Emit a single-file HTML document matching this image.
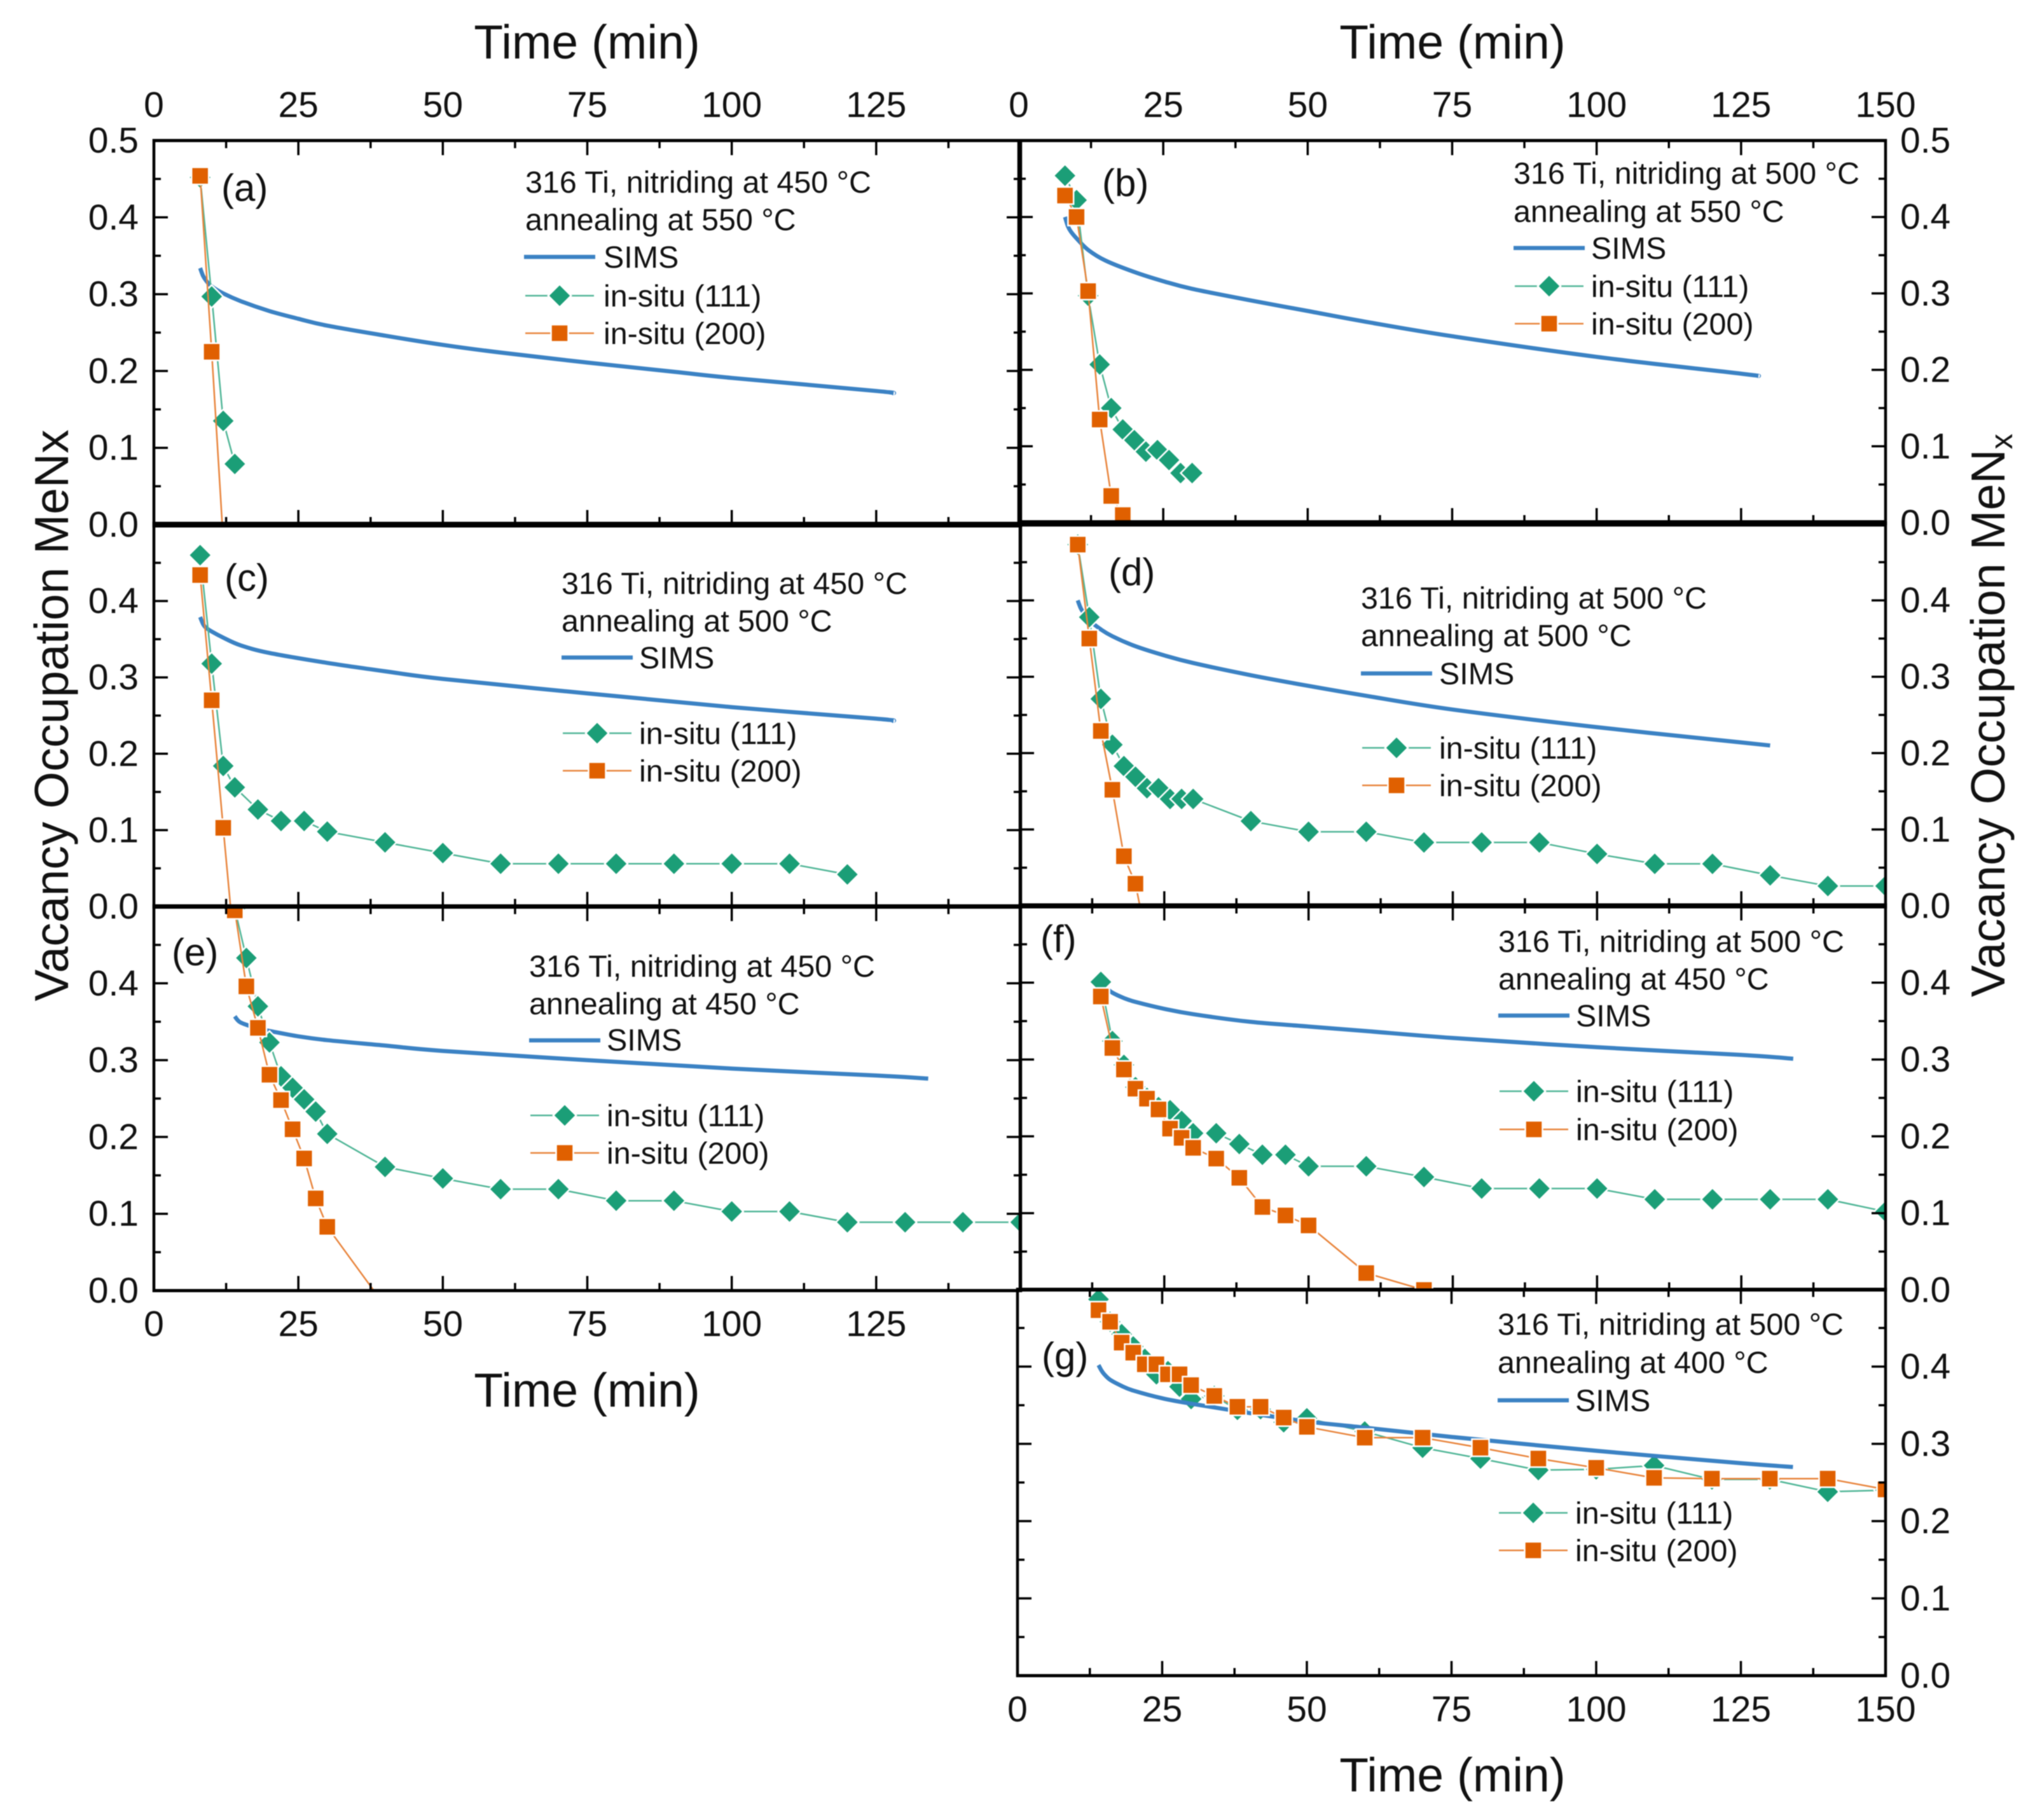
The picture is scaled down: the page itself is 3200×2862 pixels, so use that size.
<!DOCTYPE html>
<html lang="en">
<head>
<meta charset="utf-8">
<title>Vacancy occupation MeNx over annealing time</title>
<style>
html,body{margin:0;padding:0;background:#fff;}
body{width:3200px;height:2862px;overflow:hidden;}
svg{display:block;font-family:"Liberation Sans",Arial,sans-serif;fill:#111;filter:blur(0.7px);}
.leg{font-size:48.4px;}
.plabel{font-size:60px;}
.title{font-size:75px;}
.tick-label{font-size:57px;}
</style>
</head>
<body>
<svg id="chart" xmlns="http://www.w3.org/2000/svg" width="3200" height="2862" viewBox="0 0 3200 2862">
  <rect x="0" y="0" width="3200" height="2862" fill="#fff"/>
  <g id="plots"></g>

  <g class="title" text-anchor="middle">
    <text x="923" y="92">Time (min)</text>
    <text x="2284" y="92">Time (min)</text>
    <text x="923" y="2212">Time (min)</text>
    <text x="2284" y="2817">Time (min)</text>
    <text transform="translate(107,1125) rotate(-90)">Vacancy Occupation MeNx</text>
    <text transform="translate(3152,1125) rotate(-90)">Vacancy Occupation MeN<tspan font-size="49" dy="12">x</tspan></text>
  </g>

  <g class="plabel">
    <text x="348" y="316">(a)</text>
    <text x="1733" y="308">(b)</text>
    <text x="353" y="929">(c)</text>
    <text x="1743" y="920">(d)</text>
    <text x="270" y="1518">(e)</text>
    <text x="1636" y="1497">(f)</text>
    <text x="1638" y="2153">(g)</text>
  </g>

  <g class="leg" transform="translate(824,0)">
    <text x="2" y="303">316 Ti, nitriding at 450 °C</text>
    <text x="2" y="362">annealing at 550 °C</text>
    <line x1="0" x2="112" y1="404" y2="404" stroke="#3b82c4" stroke-width="6.5"/>
    <text x="125" y="421">SIMS</text>
    <line x1="2" x2="110" y1="465" y2="465" stroke="#4fb596" stroke-width="2.5"/>
    <polygon points="56,447 74,465 56,483 38,465" fill="#1b9e77" stroke="#fff" stroke-width="2.5"/>
    <text x="125" y="482">in-situ (111)</text>
    <line x1="2" x2="110" y1="524" y2="524" stroke="#e8833a" stroke-width="2.5"/>
    <rect x="42.500" y="510.500" width="27" height="27" fill="#e06000" stroke="#fff" stroke-width="2.5"/>
    <text x="125" y="541">in-situ (200)</text>
  </g>

  <g class="leg" transform="translate(2380,0)">
    <text x="0" y="289">316 Ti, nitriding at 500 °C</text>
    <text x="0" y="349">annealing at 550 °C</text>
    <line x1="0" x2="112" y1="390" y2="390" stroke="#3b82c4" stroke-width="6.5"/>
    <text x="122" y="407">SIMS</text>
    <line x1="2" x2="110" y1="450" y2="450" stroke="#4fb596" stroke-width="2.5"/>
    <polygon points="56,432 74,450 56,468 38,450" fill="#1b9e77" stroke="#fff" stroke-width="2.5"/>
    <text x="122" y="467">in-situ (111)</text>
    <line x1="2" x2="110" y1="509" y2="509" stroke="#e8833a" stroke-width="2.5"/>
    <rect x="42.500" y="495.500" width="27" height="27" fill="#e06000" stroke="#fff" stroke-width="2.5"/>
    <text x="122" y="526">in-situ (200)</text>
  </g>

  <g class="leg" transform="translate(883,0)">
    <text x="0" y="934">316 Ti, nitriding at 450 °C</text>
    <text x="0" y="993">annealing at 500 °C</text>
    <line x1="0" x2="112" y1="1034" y2="1034" stroke="#3b82c4" stroke-width="6.5"/>
    <text x="122" y="1051">SIMS</text>
    <line x1="2" x2="110" y1="1153" y2="1153" stroke="#4fb596" stroke-width="2.5"/>
    <polygon points="56,1135 74,1153 56,1171 38,1153" fill="#1b9e77" stroke="#fff" stroke-width="2.5"/>
    <text x="122" y="1170">in-situ (111)</text>
    <line x1="2" x2="110" y1="1212" y2="1212" stroke="#e8833a" stroke-width="2.5"/>
    <rect x="42.500" y="1198.500" width="27" height="27" fill="#e06000" stroke="#fff" stroke-width="2.5"/>
    <text x="122" y="1229">in-situ (200)</text>
  </g>

  <g class="leg" transform="translate(2140,0)">
    <text x="0" y="957">316 Ti, nitriding at 500 °C</text>
    <text x="0" y="1016">annealing at 500 °C</text>
    <line x1="0" x2="112" y1="1059" y2="1059" stroke="#3b82c4" stroke-width="6.5"/>
    <text x="123" y="1076">SIMS</text>
    <line x1="2" x2="110" y1="1176" y2="1176" stroke="#4fb596" stroke-width="2.5"/>
    <polygon points="56,1158 74,1176 56,1194 38,1176" fill="#1b9e77" stroke="#fff" stroke-width="2.5"/>
    <text x="123" y="1193">in-situ (111)</text>
    <line x1="2" x2="110" y1="1235" y2="1235" stroke="#e8833a" stroke-width="2.5"/>
    <rect x="42.500" y="1221.500" width="27" height="27" fill="#e06000" stroke="#fff" stroke-width="2.5"/>
    <text x="123" y="1252">in-situ (200)</text>
  </g>

  <g class="leg" transform="translate(832,0)">
    <text x="0" y="1536">316 Ti, nitriding at 450 °C</text>
    <text x="0" y="1595">annealing at 450 °C</text>
    <line x1="0" x2="112" y1="1636" y2="1636" stroke="#3b82c4" stroke-width="6.5"/>
    <text x="122" y="1652">SIMS</text>
    <line x1="2" x2="110" y1="1754" y2="1754" stroke="#4fb596" stroke-width="2.5"/>
    <polygon points="56,1736 74,1754 56,1772 38,1754" fill="#1b9e77" stroke="#fff" stroke-width="2.5"/>
    <text x="122" y="1771">in-situ (111)</text>
    <line x1="2" x2="110" y1="1813" y2="1813" stroke="#e8833a" stroke-width="2.5"/>
    <rect x="42.500" y="1799.500" width="27" height="27" fill="#e06000" stroke="#fff" stroke-width="2.5"/>
    <text x="122" y="1830">in-situ (200)</text>
  </g>

  <g class="leg" transform="translate(2356,0)">
    <text x="0" y="1497">316 Ti, nitriding at 500 °C</text>
    <text x="0" y="1556">annealing at 450 °C</text>
    <line x1="0" x2="112" y1="1597" y2="1597" stroke="#3b82c4" stroke-width="6.5"/>
    <text x="122" y="1614">SIMS</text>
    <line x1="2" x2="110" y1="1716" y2="1716" stroke="#4fb596" stroke-width="2.5"/>
    <polygon points="56,1698 74,1716 56,1734 38,1716" fill="#1b9e77" stroke="#fff" stroke-width="2.5"/>
    <text x="122" y="1733">in-situ (111)</text>
    <line x1="2" x2="110" y1="1776" y2="1776" stroke="#e8833a" stroke-width="2.5"/>
    <rect x="42.500" y="1762.500" width="27" height="27" fill="#e06000" stroke="#fff" stroke-width="2.5"/>
    <text x="122" y="1793">in-situ (200)</text>
  </g>

  <g class="leg" transform="translate(2355,0)">
    <text x="0" y="2099">316 Ti, nitriding at 500 °C</text>
    <text x="0" y="2159">annealing at 400 °C</text>
    <line x1="0" x2="112" y1="2202" y2="2202" stroke="#3b82c4" stroke-width="6.5"/>
    <text x="122" y="2219">SIMS</text>
    <line x1="2" x2="110" y1="2379" y2="2379" stroke="#4fb596" stroke-width="2.5"/>
    <polygon points="56,2361 74,2379 56,2397 38,2379" fill="#1b9e77" stroke="#fff" stroke-width="2.5"/>
    <text x="122" y="2396">in-situ (111)</text>
    <line x1="2" x2="110" y1="2438" y2="2438" stroke="#e8833a" stroke-width="2.5"/>
    <rect x="42.500" y="2424.500" width="27" height="27" fill="#e06000" stroke="#fff" stroke-width="2.5"/>
    <text x="122" y="2455">in-situ (200)</text>
  </g>
</svg>

<script>
// ---------- tick values ----------
const xMajorTicks = [0, 25, 50, 75, 100, 125, 150];
const xMinorTicks = [12.5, 37.5, 62.5, 87.5, 112.5, 137.5];
const yMajorTicks = [0, 0.1, 0.2, 0.3, 0.4, 0.5];
const yMinorTicks = [0.05, 0.15, 0.25, 0.35, 0.45];
const xLabelsLeft = ["0", "25", "50", "75", "100", "125"];
const xLabelsRight = ["0", "25", "50", "75", "100", "125", "150"];
const yLabelsFull = ["0.0", "0.1", "0.2", "0.3", "0.4", "0.5"];
const yLabelsLower = ["0.0", "0.1", "0.2", "0.3", "0.4"];

// ---------- panel (a) ----------
const aSimsTime = [8, 8.5, 9, 10, 12, 15, 20, 25, 30, 40, 50, 60, 75, 90, 100, 125, 128];
const aSimsValue = [0.334, 0.324, 0.318, 0.31, 0.301, 0.291, 0.278, 0.268, 0.259, 0.246, 0.234, 0.224, 0.211, 0.199, 0.191, 0.174, 0.171];
const a111Time = [8, 10, 12, 14];
const a111Value = [0.452, 0.297, 0.135, 0.079];
const a200Time = [8, 10, 12];
const a200Value = [0.454, 0.225, -0.02];

// ---------- panel (b) ----------
const bSimsTime = [8, 8.5, 9, 10, 12, 15, 20, 25, 30, 40, 50, 60, 75, 100, 125, 128];
const bSimsValue = [0.4, 0.388, 0.381, 0.372, 0.357, 0.343, 0.328, 0.316, 0.306, 0.291, 0.277, 0.263, 0.244, 0.217, 0.195, 0.192];
const b111Time = [8, 10, 12, 14, 16, 18, 20, 22, 24, 26, 28, 30];
const b111Value = [0.454, 0.422, 0.297, 0.207, 0.15, 0.122, 0.108, 0.093, 0.095, 0.082, 0.065, 0.065];
const b200Time = [8, 10, 12, 14, 16, 18];
const b200Value = [0.428, 0.4, 0.303, 0.135, 0.035, 0.01];

// ---------- panel (c) ----------
const cSimsTime = [8, 8.5, 9, 10, 12, 15, 20, 30, 40, 50, 75, 100, 125, 128];
const cSimsValue = [0.379, 0.37, 0.365, 0.36, 0.352, 0.342, 0.332, 0.319, 0.308, 0.298, 0.279, 0.261, 0.246, 0.243];
const c111Time = [8, 10, 12, 14, 18, 22, 26, 30, 40, 50, 60, 70, 80, 90, 100, 110, 120];
const c111Value = [0.46, 0.318, 0.184, 0.156, 0.127, 0.112, 0.112, 0.098, 0.084, 0.07, 0.056, 0.056, 0.056, 0.056, 0.056, 0.056, 0.042];
const c200Time = [8, 10, 12, 14];
const c200Value = [0.434, 0.27, 0.103, -0.06];

// ---------- panel (d) ----------
const dSimsTime = [10, 10.5, 11, 12, 14, 16, 20, 25, 30, 40, 50, 60, 75, 100, 125, 130];
const dSimsValue = [0.4, 0.39, 0.384, 0.374, 0.362, 0.353, 0.34, 0.328, 0.318, 0.302, 0.288, 0.275, 0.257, 0.234, 0.214, 0.21];
const d111Time = [10, 12, 14, 16, 18, 20, 22, 24, 26, 28, 30, 40, 50, 60, 70, 80, 90, 100, 110, 120, 130, 140, 150];
const d111Value = [0.473, 0.378, 0.271, 0.211, 0.183, 0.169, 0.154, 0.154, 0.14, 0.14, 0.14, 0.111, 0.097, 0.097, 0.083, 0.083, 0.083, 0.068, 0.055, 0.055, 0.04, 0.026, 0.026];
const d200Time = [10, 12, 14, 16, 18, 20, 22];
const d200Value = [0.473, 0.35, 0.229, 0.152, 0.065, 0.029, -0.047];

// ---------- panel (e) ----------
const eSimsTime = [14, 14.5, 15, 16, 18, 20, 25, 30, 40, 50, 75, 100, 125, 134];
const eSimsValue = [0.357, 0.352, 0.349, 0.346, 0.341, 0.338, 0.331, 0.326, 0.319, 0.312, 0.3, 0.289, 0.28, 0.276];
const e111Time = [14, 16, 18, 20, 22, 24, 26, 28, 30, 40, 50, 60, 70, 80, 90, 100, 110, 120, 130, 140, 150];
const e111Value = [0.497, 0.433, 0.37, 0.323, 0.279, 0.264, 0.249, 0.233, 0.204, 0.161, 0.146, 0.132, 0.132, 0.117, 0.117, 0.103, 0.103, 0.089, 0.089, 0.089, 0.089];
const e200Time = [14, 16, 18, 20, 22, 24, 26, 28, 30, 40];
const e200Value = [0.495, 0.396, 0.342, 0.281, 0.248, 0.21, 0.172, 0.12, 0.083, -0.02];

// ---------- panel (f) ----------
const fSimsTime = [15, 16, 18, 20, 25, 30, 40, 50, 60, 75, 100, 125, 134];
const fSimsValue = [0.393, 0.387, 0.38, 0.375, 0.366, 0.359, 0.349, 0.343, 0.337, 0.328, 0.316, 0.306, 0.301];
const f111Time = [14, 16, 18, 20, 22, 24, 26, 28, 30, 34, 38, 42, 46, 50, 60, 70, 80, 90, 100, 110, 120, 130, 140, 150];
const f111Value = [0.401, 0.324, 0.293, 0.264, 0.25, 0.238, 0.234, 0.22, 0.204, 0.204, 0.19, 0.176, 0.176, 0.161, 0.161, 0.147, 0.132, 0.132, 0.132, 0.118, 0.118, 0.118, 0.118, 0.102];
const f200Time = [14, 16, 18, 20, 22, 24, 26, 28, 30, 34, 38, 42, 46, 50, 60, 70];
const f200Value = [0.382, 0.315, 0.287, 0.262, 0.249, 0.235, 0.21, 0.198, 0.185, 0.171, 0.146, 0.108, 0.097, 0.084, 0.022, 0];

// ---------- panel (g) ----------
const gSimsTime = [14, 14.5, 15, 16, 18, 20, 25, 30, 40, 50, 60, 75, 100, 125, 134];
const gSimsValue = [0.402, 0.395, 0.39, 0.383, 0.375, 0.369, 0.359, 0.352, 0.34, 0.329, 0.321, 0.309, 0.291, 0.275, 0.27];
const g111Time = [14, 16, 18, 20, 22, 24, 26, 28, 30, 34, 38, 42, 46, 50, 60, 70, 80, 90, 100, 110, 120, 130, 140, 150];
const g111Value = [0.487, 0.458, 0.442, 0.426, 0.41, 0.39, 0.394, 0.374, 0.358, 0.362, 0.344, 0.345, 0.328, 0.333, 0.316, 0.295, 0.281, 0.266, 0.267, 0.272, 0.254, 0.254, 0.238, 0.24];
const g200Time = [14, 16, 18, 20, 22, 24, 26, 28, 30, 34, 38, 42, 46, 50, 60, 70, 80, 90, 100, 110, 120, 130, 140, 150];
const g200Value = [0.473, 0.458, 0.431, 0.418, 0.403, 0.403, 0.39, 0.39, 0.376, 0.362, 0.348, 0.348, 0.334, 0.322, 0.308, 0.308, 0.295, 0.281, 0.269, 0.256, 0.255, 0.255, 0.255, 0.241];

// ---------- rendering ----------
const SVG_NS = "http://www.w3.org/2000/svg";
const plots = document.getElementById("plots");
const defs = document.createElementNS(SVG_NS, "defs");


plots.appendChild(defs);

const AXIS = "#000";
const GREEN = "#1b9e77";
const GREEN_LINE = "#4fb596";
const ORANGE = "#e06000";
const ORANGE_LINE = "#e8833a";
const BLUE = "#3b82c4";

function makeScale(d0, d1, r0, r1) {
  return function (v) { return r0 + (v - d0) / (d1 - d0) * (r1 - r0); };
}

function addAxisLine(parent, x1, y1, x2, y2, width, name) {
  const el = document.createElementNS(SVG_NS, "line");
  
  
  el.setAttribute("x1", x1); el.setAttribute("y1", y1);
  el.setAttribute("x2", x2); el.setAttribute("y2", y2);
  el.setAttribute("stroke", AXIS);
  el.setAttribute("stroke-width", width);
  parent.appendChild(el);
}

function addTick(parent, x1, y1, x2, y2, name) {
  const el = document.createElementNS(SVG_NS, "line");
  
  
  el.setAttribute("x1", x1); el.setAttribute("y1", y1);
  el.setAttribute("x2", x2); el.setAttribute("y2", y2);
  el.setAttribute("stroke", AXIS);
  el.setAttribute("stroke-width", 3.5);
  parent.appendChild(el);
}

function addTickLabel(parent, x, y, anchor, text, name) {
  const el = document.createElementNS(SVG_NS, "text");
  
  
  el.setAttribute("class", "tick-label");
  el.setAttribute("x", x);
  el.setAttribute("y", y);
  el.setAttribute("text-anchor", anchor);
  el.textContent = text;
  parent.appendChild(el);
}

function addSeriesLine(parent, xs, ys, xScale, yScale, color, width, name) {
  const el = document.createElementNS(SVG_NS, "polyline");
  
  
  el.setAttribute("points", xs.map(function (t, i) { return xScale(t).toFixed(1) + "," + yScale(ys[i]).toFixed(1); }).join(" "));
  el.setAttribute("fill", "none");
  el.setAttribute("stroke", color);
  el.setAttribute("stroke-width", width);
  el.setAttribute("stroke-linejoin", "round");
  parent.appendChild(el);
}

function addSmoothCurve(parent, xs, ys, xScale, yScale, color, width, name) {
  const pts = xs.map(function (t, i) { return [xScale(t), yScale(ys[i])]; });
  let d = "M" + pts[0][0].toFixed(1) + " " + pts[0][1].toFixed(1);
  for (let i = 0; i < pts.length - 1; i++) {
    const p0 = pts[Math.max(i - 1, 0)], p1 = pts[i], p2 = pts[i + 1], p3 = pts[Math.min(i + 2, pts.length - 1)];
    const c1x = p1[0] + (p2[0] - p0[0]) / 6, c1y = p1[1] + (p2[1] - p0[1]) / 6;
    const c2x = p2[0] - (p3[0] - p1[0]) / 6, c2y = p2[1] - (p3[1] - p1[1]) / 6;
    d += " C" + c1x.toFixed(1) + " " + c1y.toFixed(1) + " " + c2x.toFixed(1) + " " + c2y.toFixed(1) + " " + p2[0].toFixed(1) + " " + p2[1].toFixed(1);
  }
  const el = document.createElementNS(SVG_NS, "path");
  
  
  el.setAttribute("d", d);
  el.setAttribute("fill", "none");
  el.setAttribute("stroke", color);
  el.setAttribute("stroke-width", width);
  parent.appendChild(el);
}

function addDiamonds(parent, xs, ys, xScale, yScale, panelId) {
  xs.forEach(function (t, i) {
    const cx = xScale(t), cy = yScale(ys[i]), r = 18;
    const el = document.createElementNS(SVG_NS, "polygon");
    
    
    el.setAttribute("points", [cx, cy - r, cx + r, cy, cx, cy + r, cx - r, cy].join(" "));
    el.setAttribute("fill", GREEN);
    el.setAttribute("stroke", "#fff");
    el.setAttribute("stroke-width", 2.5);
    parent.appendChild(el);
  });
}

function addSquares(parent, xs, ys, xScale, yScale, panelId) {
  xs.forEach(function (t, i) {
    const s = 27;
    const el = document.createElementNS(SVG_NS, "rect");
    
    
    el.setAttribute("x", xScale(t) - s / 2);
    el.setAttribute("y", yScale(ys[i]) - s / 2);
    el.setAttribute("width", s);
    el.setAttribute("height", s);
    el.setAttribute("fill", ORANGE);
    el.setAttribute("stroke", "#fff");
    el.setAttribute("stroke-width", 2.5);
    parent.appendChild(el);
  });
}

function drawPanel(p, series) {
  const xScale = makeScale(0, 150, p.x0, p.x1);
  const yScale = makeScale(0, 0.5, p.yBottom, p.yTop);

  const group = document.createElementNS(SVG_NS, "g");
  
  
  plots.appendChild(group);

  const clip = document.createElementNS(SVG_NS, "clipPath");
  
  
  clip.setAttribute("id", "clip-" + p.id);
  const clipRect = document.createElementNS(SVG_NS, "rect");
  
  
  clipRect.setAttribute("x", p.x0);
  clipRect.setAttribute("y", p.yTop);
  clipRect.setAttribute("width", p.x1 - p.x0);
  clipRect.setAttribute("height", p.yBottom - p.yTop);
  clip.appendChild(clipRect);
  defs.appendChild(clip);

  const marks = document.createElementNS(SVG_NS, "g");
  
  
  marks.setAttribute("clip-path", "url(#clip-" + p.id + ")");
  group.appendChild(marks);

  const drawSims = function () {
    addSmoothCurve(marks, series.simsT, series.simsV, xScale, yScale, BLUE, 6.5, 'sims-curve-' + p.id);
  };
  const drawGreen = function () {
    addSeriesLine(marks, series.t111, series.v111, xScale, yScale, GREEN_LINE, 2.5, 'line-111-' + p.id);
    addDiamonds(marks, series.t111, series.v111, xScale, yScale, p.id);
  };
  const drawOrange = function () {
    addSeriesLine(marks, series.t200, series.v200, xScale, yScale, ORANGE_LINE, 2.5, 'line-200-' + p.id);
    addSquares(marks, series.t200, series.v200, xScale, yScale, p.id);
  };
  if (p.simsOverGreen) { drawGreen(); drawSims(); drawOrange(); }
  else { drawSims(); drawGreen(); drawOrange(); }

  // frame
  addAxisLine(group, p.x0, p.yTop - p.topWidth / 2, p.x0, p.yBottom + p.bottomWidth / 2, 4.5, 'left-axis-' + p.id);
  addAxisLine(group, p.x1, p.yTop - p.topWidth / 2, p.x1, p.yBottom + p.bottomWidth / 2, 4.5, 'right-axis-' + p.id);
  addAxisLine(group, p.x0, p.yTop, p.x1, p.yTop, p.topWidth, 'top-axis-' + p.id);
  addAxisLine(group, p.x0, p.yBottom, p.x1, p.yBottom, p.bottomWidth, 'bottom-axis-' + p.id);

  // x ticks
  xMajorTicks.forEach(function (t) {
    if (p.topTicks) addTick(group, xScale(t), p.yTop, xScale(t), p.yTop + 23, 'x-major-tick-top-' + p.id);
    addTick(group, xScale(t), p.yBottom, xScale(t), p.yBottom - 23, 'x-major-tick-bottom-' + p.id);
  });
  xMinorTicks.forEach(function (t) {
    if (p.topTicks) addTick(group, xScale(t), p.yTop, xScale(t), p.yTop + 12, 'x-minor-tick-top-' + p.id);
    addTick(group, xScale(t), p.yBottom, xScale(t), p.yBottom - 12, 'x-minor-tick-bottom-' + p.id);
  });

  // y ticks
  yMajorTicks.forEach(function (v) {
    addTick(group, p.x0, yScale(v), p.x0 + 22, yScale(v), 'y-major-tick-left-' + p.id);
    addTick(group, p.x1, yScale(v), p.x1 - 22, yScale(v), 'y-major-tick-right-' + p.id);
  });
  yMinorTicks.forEach(function (v) {
    addTick(group, p.x0, yScale(v), p.x0 + 11, yScale(v), 'y-minor-tick-left-' + p.id);
    addTick(group, p.x1, yScale(v), p.x1 - 11, yScale(v), 'y-minor-tick-right-' + p.id);
  });

  // tick labels
  if (p.xLabels) {
    p.xLabels.forEach(function (txt, i) {
      addTickLabel(group, xScale(xMajorTicks[i]), p.xLabelY, "middle", txt, 'x-tick-label-' + p.id);
    });
  }
  p.yLabels.forEach(function (txt, i) {
    const yy = yScale(yMajorTicks[i]) + 19;
    if (p.labelsOnRight) addTickLabel(group, 2988, yy, "start", txt, 'y-tick-label-' + p.id);
    else addTickLabel(group, 218, yy, "end", txt, 'y-tick-label-' + p.id);
  });
}

drawPanel(
  { id: "a", x0: 242, x1: 1605, yTop: 221, yBottom: 825, topWidth: 5, bottomWidth: 9, topTicks: true, xLabels: xLabelsLeft, xLabelY: 184, yLabels: yLabelsFull, labelsOnRight: false },
  { simsT: aSimsTime, simsV: aSimsValue, t111: a111Time, v111: a111Value, t200: a200Time, v200: a200Value }
);
drawPanel(
  { id: "b", x0: 1602, x1: 2965, yTop: 221, yBottom: 822, topWidth: 5, bottomWidth: 8, topTicks: true, xLabels: xLabelsRight, xLabelY: 184, yLabels: yLabelsFull, labelsOnRight: true },
  { simsT: bSimsTime, simsV: bSimsValue, t111: b111Time, v111: b111Value, t200: b200Time, v200: b200Value }
);
drawPanel(
  { id: "c", x0: 242, x1: 1605, yTop: 825, yBottom: 1425.5, topWidth: 9, bottomWidth: 7, topTicks: false, xLabels: null, yLabels: yLabelsLower, labelsOnRight: false },
  { simsT: cSimsTime, simsV: cSimsValue, t111: c111Time, v111: c111Value, t200: c200Time, v200: c200Value }
);
drawPanel(
  { id: "d", x0: 1604, x1: 2965, yTop: 824, yBottom: 1424.5, topWidth: 8, bottomWidth: 8, topTicks: false, xLabels: null, yLabels: yLabelsLower, labelsOnRight: true },
  { simsT: dSimsTime, simsV: dSimsValue, t111: d111Time, v111: d111Value, t200: d200Time, v200: d200Value }
);
drawPanel(
  { id: "e", x0: 242, x1: 1605, yTop: 1425.5, yBottom: 2029.5, topWidth: 7, bottomWidth: 5, topTicks: true, xLabels: xLabelsLeft, xLabelY: 2101, yLabels: yLabelsLower, labelsOnRight: false },
  { simsT: eSimsTime, simsV: eSimsValue, t111: e111Time, v111: e111Value, t200: e200Time, v200: e200Value }
);
drawPanel(
  { id: "g", x0: 1600, x1: 2965, yTop: 2027.5, yBottom: 2635, topWidth: 5, bottomWidth: 5, topTicks: true, xLabels: xLabelsRight, xLabelY: 2707, yLabels: yLabelsLower, labelsOnRight: true, simsOverGreen: true },
  { simsT: gSimsTime, simsV: gSimsValue, t111: g111Time, v111: g111Value, t200: g200Time, v200: g200Value }
);
drawPanel(
  { id: "f", x0: 1604, x1: 2965, yTop: 1424.5, yBottom: 2028.5, topWidth: 8, bottomWidth: 5, topTicks: true, xLabels: null, yLabels: yLabelsLower, labelsOnRight: true },
  { simsT: fSimsTime, simsV: fSimsValue, t111: f111Time, v111: f111Value, t200: f200Time, v200: f200Value }
);
</script>
</body>
</html>
